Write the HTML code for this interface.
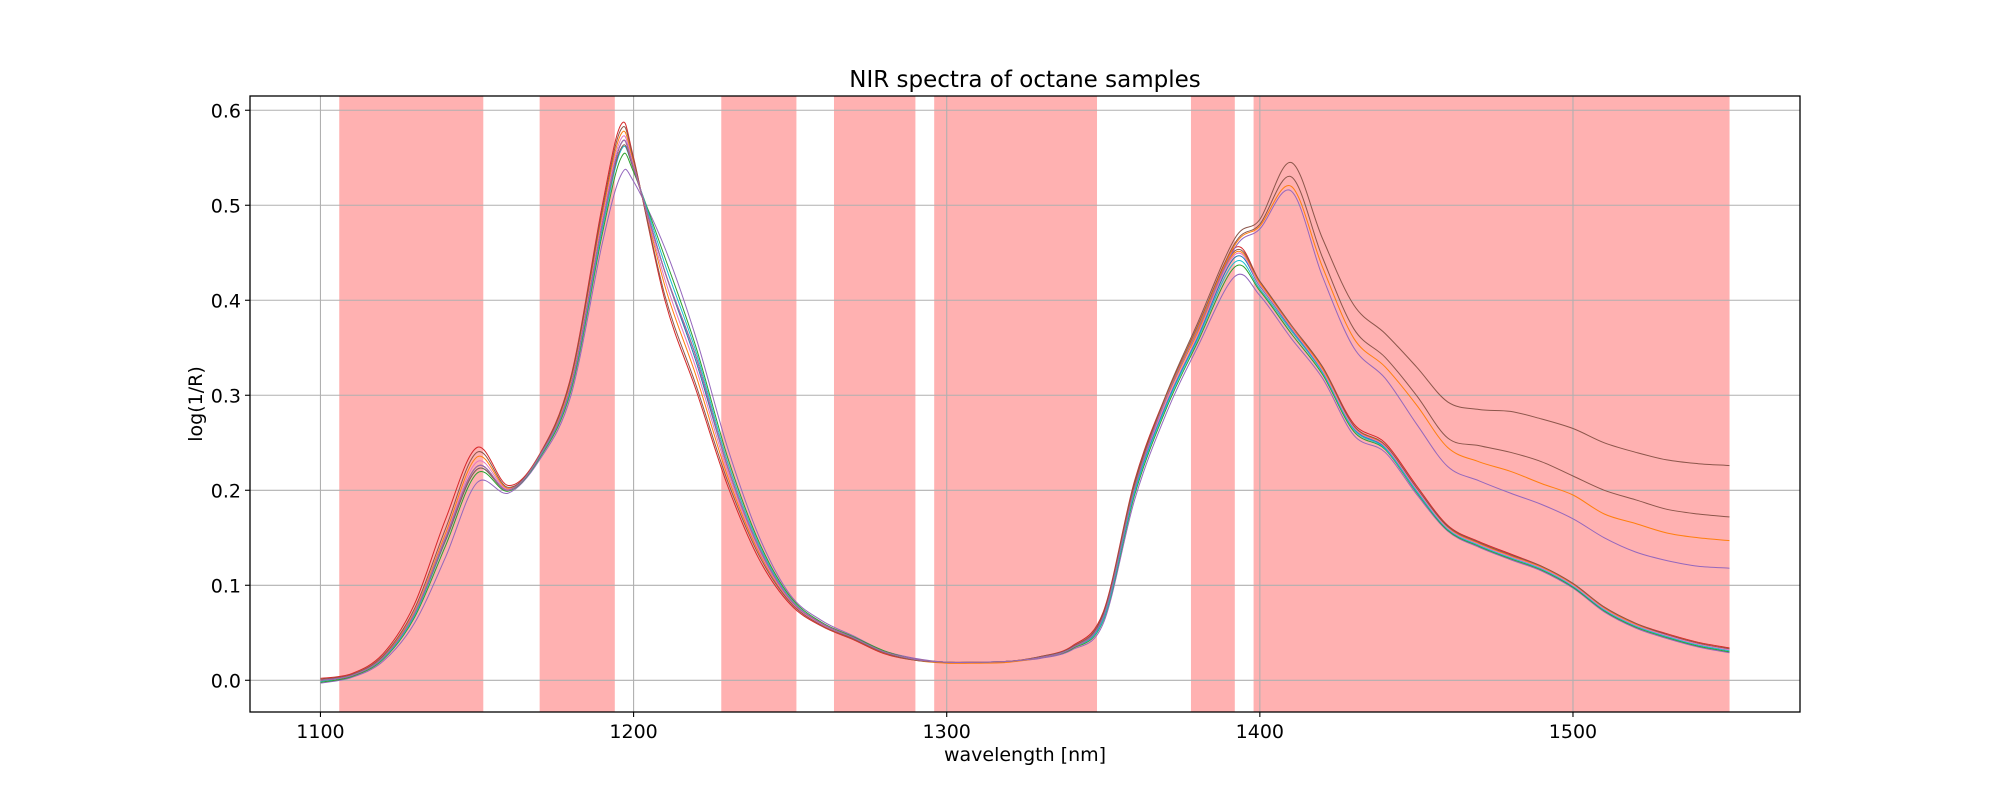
<!DOCTYPE html>
<html><head><meta charset="utf-8"><style>
html,body{margin:0;padding:0;background:#fff;}
svg{display:block;font-family:"DejaVu Sans","Liberation Sans",sans-serif;}
</style></head><body>
<svg id="chart" width="2000" height="800" viewBox="0 0 2000 800" xmlns="http://www.w3.org/2000/svg">
<text x="1025" y="87" text-anchor="middle" font-size="23">NIR spectra of octane samples</text>
<g id="bands"></g>
<g id="grid"></g>
<g id="series"></g>
<rect x="250" y="96" width="1550" height="616" fill="none" stroke="#000" stroke-width="1.3"/>
<g id="ticks"></g>
<text x="1025" y="761" text-anchor="middle" font-size="19">wavelength [nm]</text>
<text x="0" y="0" transform="translate(202,404) rotate(-90)" text-anchor="middle" font-size="19">log(1/R)</text>
</svg>
<script>
const wavelengths=[1100,1110,1120,1130,1140,1150,1160,1170,1180,1190,1196,1200,1210,1220,1230,1240,1250,1260,1270,1280,1290,1300,1310,1320,1330,1340,1350,1360,1370,1380,1392,1400,1410,1420,1430,1440,1450,1460,1470,1480,1490,1500,1510,1520,1530,1540,1550];
const bandStarts=[1106,1170,1228,1264,1296,1378,1398];
const bandEnds=[1152,1194,1252,1290,1348,1392,1550];
const xTicks=[1100,1200,1300,1400,1500];
const yTicks=[0.0,0.1,0.2,0.3,0.4,0.5,0.6];
const s1=[0,.005,.024,.07,.15,.225,.2,.236,.31,.48,.565,.54,.43,.335,.225,.14,.085,.06,.045,.03,.022,.019,.019,.02,.024,.034,.066,.2,.29,.36,.445,.415,.37,.325,.265,.245,.2,.16,.143,.13,.118,.1,.075,.058,.047,.038,.032];
const s2=[.002,.007,.028,.08,.17,.245,.205,.238,.32,.5,.585,.55,.40,.305,.205,.128,.08,.057,.043,.028,.021,.019,.019,.02,.025,.036,.072,.21,.3,.37,.455,.42,.372,.33,.27,.25,.205,.163,.146,.133,.12,.102,.077,.06,.049,.04,.034];
const s3=[-.003,.003,.02,.06,.13,.208,.197,.232,.3,.46,.532,.525,.455,.36,.245,.152,.09,.063,.047,.031,.023,.019,.019,.02,.023,.032,.06,.19,.28,.35,.425,.405,.36,.318,.258,.24,.196,.157,.14,.127,.115,.097,.072,.055,.044,.035,.029];
const s4=[0,.005,.025,.072,.155,.235,.202,.237,.315,.49,.575,.545,.415,.32,.215,.135,.083,.058,.044,.029,.021,.018,.018,.019,.024,.034,.068,.205,.295,.365,.45,.418,.372,.328,.267,.247,.202,.161,.144,.131,.119,.101,.076,.059,.048,.039,.033];
const s5=[-.002,.004,.022,.066,.142,.218,.199,.234,.305,.47,.55,.535,.445,.35,.235,.146,.088,.061,.046,.031,.022,.019,.019,.02,.024,.033,.063,.195,.285,.355,.435,.41,.365,.322,.262,.243,.198,.158,.141,.128,.116,.098,.073,.056,.045,.036,.03];
const s6=[.001,.006,.026,.075,.16,.24,.203,.237,.318,.495,.58,.548,.405,.31,.21,.132,.082,.058,.044,.029,.021,.019,.019,.02,.025,.035,.07,.208,.298,.368,.452,.42,.374,.33,.268,.248,.203,.162,.145,.132,.12,.102,.077,.06,.048,.039,.033];
const s7=[-.001,.005,.023,.068,.147,.222,.2,.235,.308,.475,.558,.538,.438,.345,.23,.143,.086,.06,.045,.03,.022,.019,.019,.02,.024,.034,.064,.198,.288,.358,.44,.412,.368,.324,.264,.244,.199,.159,.142,.129,.117,.099,.074,.057,.046,.037,.031];
const s8=[0,.005,.024,.071,.152,.23,.201,.236,.312,.485,.57,.542,.422,.328,.22,.137,.084,.059,.045,.03,.022,.019,.019,.02,.024,.034,.067,.202,.292,.362,.448,.416,.371,.326,.266,.246,.201,.16,.143,.13,.118,.1,.075,.058,.047,.038,.032];
const o1=[0,.005,.024,.07,.148,.222,.2,.236,.31,.48,.56,.538,.43,.34,.225,.14,.085,.06,.045,.03,.022,.019,.019,.02,.024,.034,.068,.205,.3,.375,.465,.485,.545,.465,.395,.365,.33,.293,.285,.283,.275,.265,.25,.24,.232,.228,.226];
const o2=[0,.005,.024,.07,.15,.225,.2,.236,.31,.48,.565,.54,.43,.34,.225,.14,.085,.06,.045,.03,.022,.019,.019,.02,.024,.034,.067,.204,.298,.372,.46,.48,.53,.445,.37,.34,.3,.255,.247,.24,.23,.215,.2,.19,.18,.175,.172];
const o3=[0,.005,.024,.07,.15,.225,.2,.236,.31,.48,.565,.54,.43,.34,.225,.14,.085,.06,.045,.03,.022,.019,.019,.02,.024,.034,.067,.203,.297,.37,.458,.478,.52,.435,.36,.33,.29,.245,.23,.22,.207,.195,.175,.165,.155,.15,.147];
const o4=[0,.005,.024,.07,.15,.225,.2,.236,.31,.48,.565,.54,.43,.34,.225,.14,.085,.06,.045,.03,.022,.019,.019,.02,.024,.034,.067,.202,.296,.368,.455,.475,.515,.425,.35,.318,.27,.225,.21,.197,.185,.17,.15,.135,.126,.12,.118];
const seriesList=[s1,s2,s3,s4,s5,s6,s7,s8,o1,o2,o3,o4];
const seriesColors=['#1f77b4','#d62728','#9467bd','#ff7f0e','#2ca02c','#8c564b','#17becf','#e377c2','#8c564b','#8c564b','#ff7f0e','#9467bd'];

const NS='http://www.w3.org/2000/svg';
const X0=250,X1=1800,Y0=96,Y1=712;
const xMin=1077.5,xMax=1572.5,yMin=-0.0334,yMax=0.615;
function xs(v){return X0+(v-xMin)/(xMax-xMin)*(X1-X0);}
function ys(v){return Y1-(v-yMin)/(yMax-yMin)*(Y1-Y0);}
function mk(tag,attrs,parent){const e=document.createElementNS(NS,tag);for(const k in attrs)e.setAttribute(k,attrs[k]);parent.appendChild(e);return e;}

const bandG=document.getElementById('bands');
bandStarts.forEach((b,i)=>{
  const r=mk('rect',{x:xs(b),y:Y0,width:xs(bandEnds[i])-xs(b),height:Y1-Y0,fill:'#ffb1b1'},bandG);
  
  
});
const gridG=document.getElementById('grid'),tickG=document.getElementById('ticks');
xTicks.forEach(t=>{
  const x=xs(t);
  const g=mk('line',{x1:x,x2:x,y1:Y0,y2:Y1,stroke:'#b0b0b0','stroke-width':1.1},gridG);
  
  
  mk('line',{x1:x,x2:x,y1:Y1,y2:Y1+5,stroke:'#000','stroke-width':1.1},tickG);
  const tx=mk('text',{x:x,y:Y1+26,'text-anchor':'middle','font-size':19},tickG);
  tx.textContent=String(t);
  
  
});
yTicks.forEach(t=>{
  const y=ys(t);
  const g=mk('line',{x1:X0,x2:X1,y1:y,y2:y,stroke:'#b0b0b0','stroke-width':1.1},gridG);
  
  
  mk('line',{x1:X0-5,x2:X0,y1:y,y2:y,stroke:'#000','stroke-width':1.1},tickG);
  const tx=mk('text',{x:X0-9,y:y+7,'text-anchor':'end','font-size':19},tickG);
  tx.textContent=t.toFixed(1);
  
  
});
function smoothPath(pts){
  let d='M'+pts[0][0].toFixed(1)+','+pts[0][1].toFixed(1);
  for(let i=0;i<pts.length-1;i++){
    const p0=pts[Math.max(0,i-1)],p1=pts[i],p2=pts[i+1],p3=pts[Math.min(pts.length-1,i+2)];
    const c1=[p1[0]+(p2[0]-p0[0])/6,p1[1]+(p2[1]-p0[1])/6];
    const c2=[p2[0]-(p3[0]-p1[0])/6,p2[1]-(p3[1]-p1[1])/6];
    d+='C'+c1[0].toFixed(1)+','+c1[1].toFixed(1)+' '+c2[0].toFixed(1)+','+c2[1].toFixed(1)+' '+p2[0].toFixed(1)+','+p2[1].toFixed(1);
  }
  return d;
}
const serG=document.getElementById('series');
seriesList.forEach((s,i)=>{
  const pts=wavelengths.map((w,j)=>[xs(w),ys(s[j])]);
  const p=mk('path',{d:smoothPath(pts),fill:'none',stroke:seriesColors[i],'stroke-width':1},serG);
  
  
});
</script>
</body></html>
